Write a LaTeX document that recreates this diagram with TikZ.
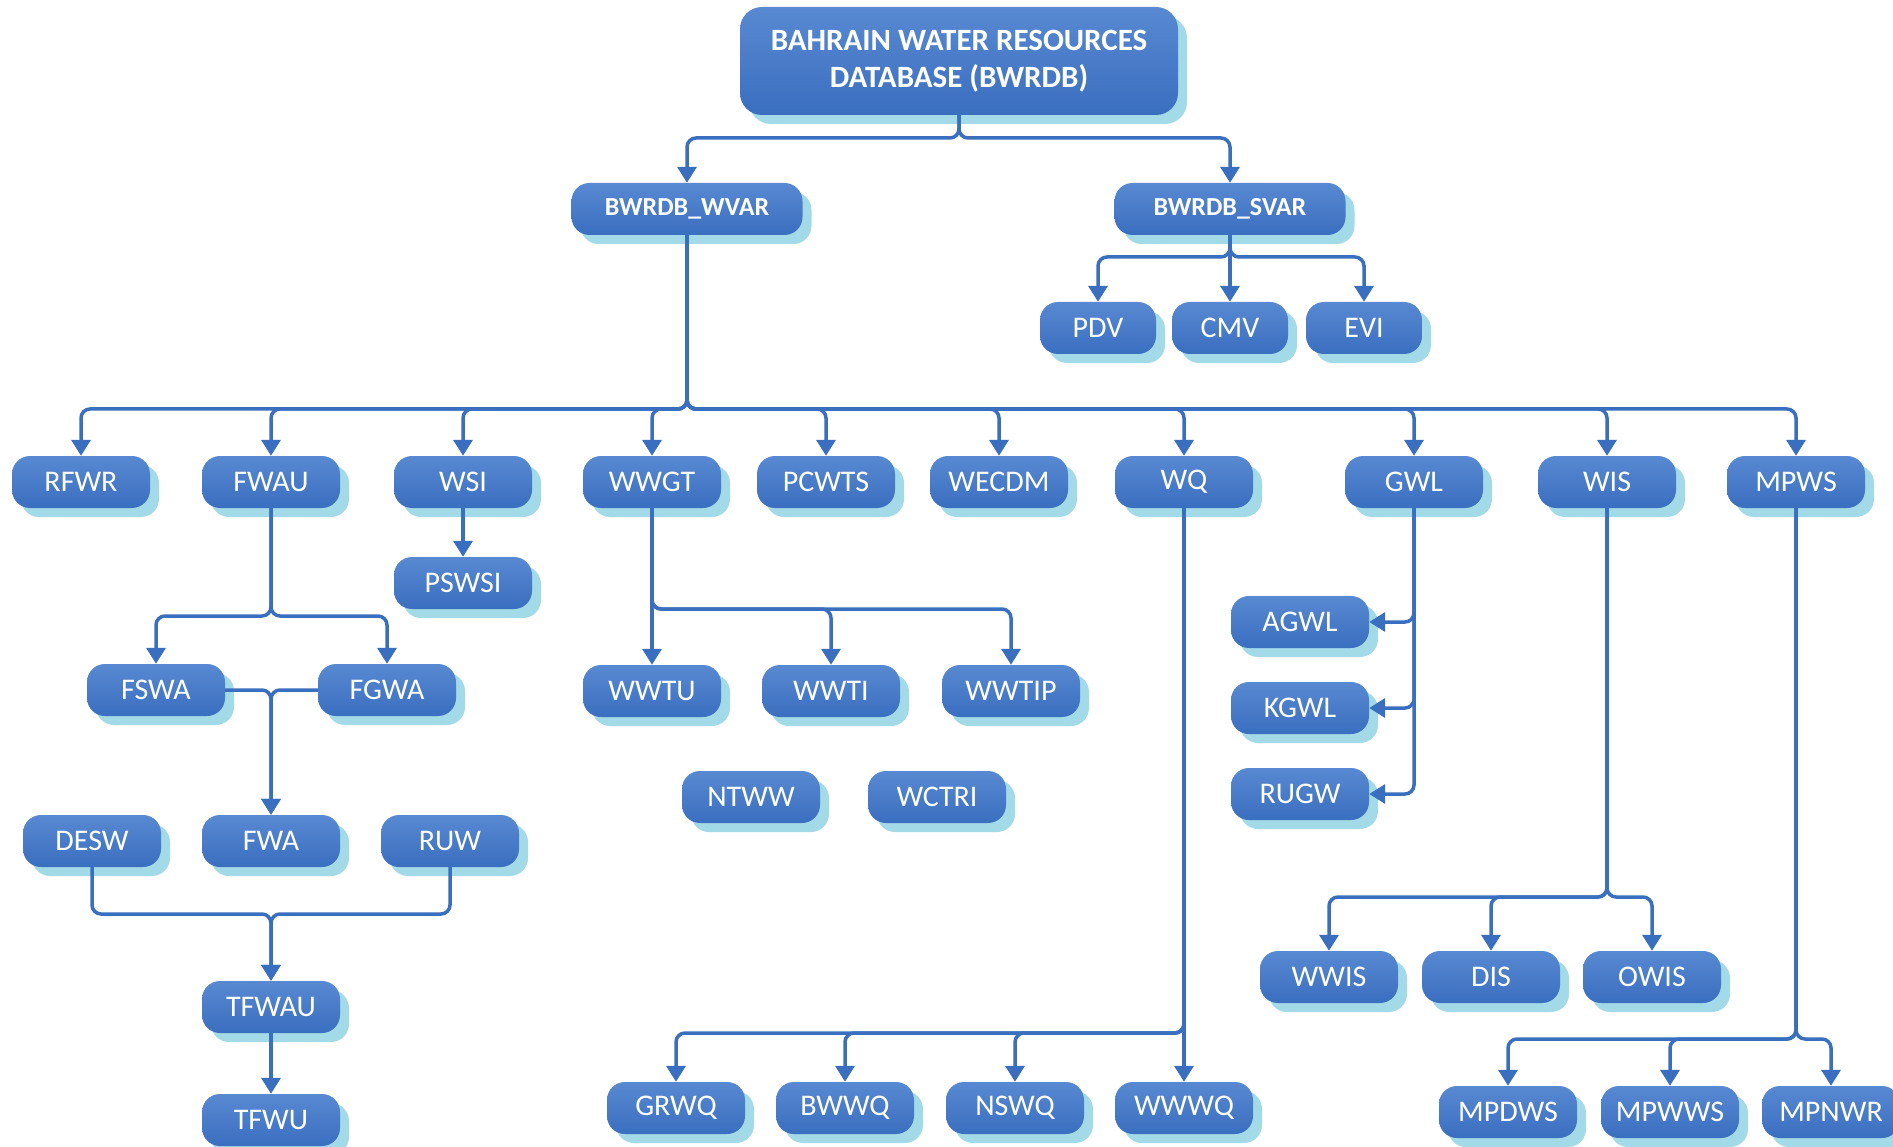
\documentclass[tikz,border=0pt]{standalone}
\usepackage{fontspec}
\setmainfont{Carlito}
\usetikzlibrary{arrows.meta,shadows}
\definecolor{nodetop}{HTML}{5889D2}
\definecolor{nodebot}{HTML}{3A6EBF}
\definecolor{shade}{HTML}{A3DAE8}
\definecolor{linkc}{HTML}{3A6FC0}

\begin{document}
\begin{tikzpicture}[x=1pt,y=-1pt]%
  \tikzstyle{boxn}=[rectangle,rounded corners=18pt,minimum width=138pt,minimum height=52pt,
    top color=nodetop,bottom color=nodebot,text=white,inner sep=0pt,
    font=\fontsize{30}{36}\selectfont,
    drop shadow={shadow xshift=9pt,shadow yshift=-9pt,fill=shade,opacity=1}]
  \tikzstyle{smalln}=[boxn,minimum width=116pt]
  \tikzstyle{varn}=[boxn,minimum width=231pt,font=\fontsize{26}{31}\selectfont\bfseries]
  \tikzstyle{rootn}=[boxn,minimum width=438pt,minimum height=108pt,rounded corners=22pt,
    align=center,font=\fontsize{31}{37}\selectfont\bfseries]
  \tikzstyle{line}=[draw=linkc,line width=3.5pt,rounded corners=9pt]
  \tikzstyle{link}=[line,-{Triangle[width=19pt,length=16pt]}]
  \useasboundingbox[fill=white] (0,0) rectangle (1893,1147);

  \node(root)[rootn] at (959,61) {BAHRAIN WATER RESOURCES\\DATABASE (BWRDB)};
  \node(wvar)[varn] at (687,209) {BWRDB\_WVAR};
  \node(svar)[varn] at (1230,209) {BWRDB\_SVAR};
  \node(pdv)[smalln] at (1098,328) {PDV};
  \node(cmv)[smalln] at (1230,328) {CMV};
  \node(evi)[smalln] at (1364,328) {EVI};

  \node(rfwr)[boxn] at (81,482) {RFWR};
  \node(fwau)[boxn] at (271,482) {FWAU};
  \node(wsi)[boxn] at (463,482) {WSI};
  \node(wwgt)[boxn] at (652,482) {WWGT};
  \node(pcwts)[boxn] at (826,482) {PCWTS};
  \node(wecdm)[boxn] at (999,482) {WECDM};
  \node(wq)[boxn] at (1184,482) {WQ};
  \node(gwl)[boxn] at (1414,482) {GWL};
  \node(wis)[boxn] at (1607,482) {WIS};
  \node(mpws)[boxn] at (1796,482) {MPWS};

  \node(pswsi)[boxn] at (463,583) {PSWSI};
  \node(fswa)[boxn] at (156,690) {FSWA};
  \node(fgwa)[boxn] at (387,690) {FGWA};
  \node(desw)[boxn] at (92,841) {DESW};
  \node(fwa)[boxn] at (271,841) {FWA};
  \node(ruw)[boxn] at (450,841) {RUW};
  \node(tfwau)[boxn] at (271,1007) {TFWAU};
  \node(tfwu)[boxn] at (271,1120) {TFWU};

  \node(wwtu)[boxn] at (652,691) {WWTU};
  \node(wwti)[boxn] at (831,691) {WWTI};
  \node(wwtip)[boxn] at (1011,691) {WWTIP};
  \node(ntww)[boxn] at (751,797) {NTWW};
  \node(wctri)[boxn] at (937,797) {WCTRI};

  \node(agwl)[boxn] at (1300,622) {AGWL};
  \node(kgwl)[boxn] at (1300,708) {KGWL};
  \node(rugw)[boxn] at (1300,794) {RUGW};

  \node(wwis)[boxn] at (1329,977) {WWIS};
  \node(dis)[boxn] at (1491,977) {DIS};
  \node(owis)[boxn] at (1652,977) {OWIS};

  \node(grwq)[boxn] at (676,1108) {GRWQ};
  \node(bwwq)[boxn] at (845,1108) {BWWQ};
  \node(nswq)[boxn] at (1015,1108) {NSWQ};
  \node(wwwq)[boxn] at (1184,1108) {WWWQ};

  \node(mpdws)[boxn] at (1508,1112) {MPDWS};
  \node(mpwws)[boxn] at (1670,1112) {MPWWS};
  \node(mpnwr)[boxn] at (1831,1112) {MPNWR};

  % bus points
  \coordinate (busroot) at (959,138);
  \coordinate (bussvar) at (1230,257);
  \coordinate (buswvar) at (687,409);
  \coordinate (busfwau) at (271,616);
  \coordinate (buswwgt) at (652,609);
  \coordinate (bustfwa) at (271,914);
  \coordinate (buswis) at (1607,897);
  \coordinate (buswq) at (1184,1033);
  \coordinate (busmpws) at (1796,1039);

  \foreach \n in {wvar,svar} \draw[link] (root.south) -- (busroot) -| (\n.north);
  \foreach \n in {pdv,evi} \draw[link] (svar.south) -- (bussvar) -| (\n.north);
  \draw[link] (svar.south) -- (cmv.north);
  \foreach \n in {rfwr,fwau,wsi,wwgt,pcwts,wecdm,wq,gwl,wis,mpws}
    \draw[link] (wvar.south) -- (buswvar) -| (\n.north);

  \draw[link] (wsi.south) -- (pswsi.north);
  \foreach \n in {fswa,fgwa} \draw[link] (fwau.south) -- (busfwau) -| (\n.north);
  \draw[link] (fswa.east) -| (fwa.north);
  \draw[link] (fgwa.west) -| (fwa.north);
  \foreach \n in {desw,ruw} \draw[link] (\n.south) |- (bustfwa) -- (tfwau.north);
  \draw[link] (tfwau.south) -- (tfwu.north);

  \draw[link] (wwgt.south) -- (wwtu.north);
  \foreach \n in {wwti,wwtip} \draw[link] (wwgt.south) -- (buswwgt) -| (\n.north);

  \foreach \n in {agwl,kgwl,rugw} \draw[link] (gwl.south) |- (\n.east);
  \foreach \n in {wwis,dis,owis} \draw[link] (wis.south) -- (buswis) -| (\n.north);
  \foreach \n in {grwq,bwwq,nswq} \draw[link] (wq.south) -- (buswq) -| (\n.north);
  \draw[link] (wq.south) -- (wwwq.north);
  \foreach \n in {mpdws,mpwws,mpnwr} \draw[link] (mpws.south) -- (busmpws) -| (\n.north);
\end{tikzpicture}
\end{document}
